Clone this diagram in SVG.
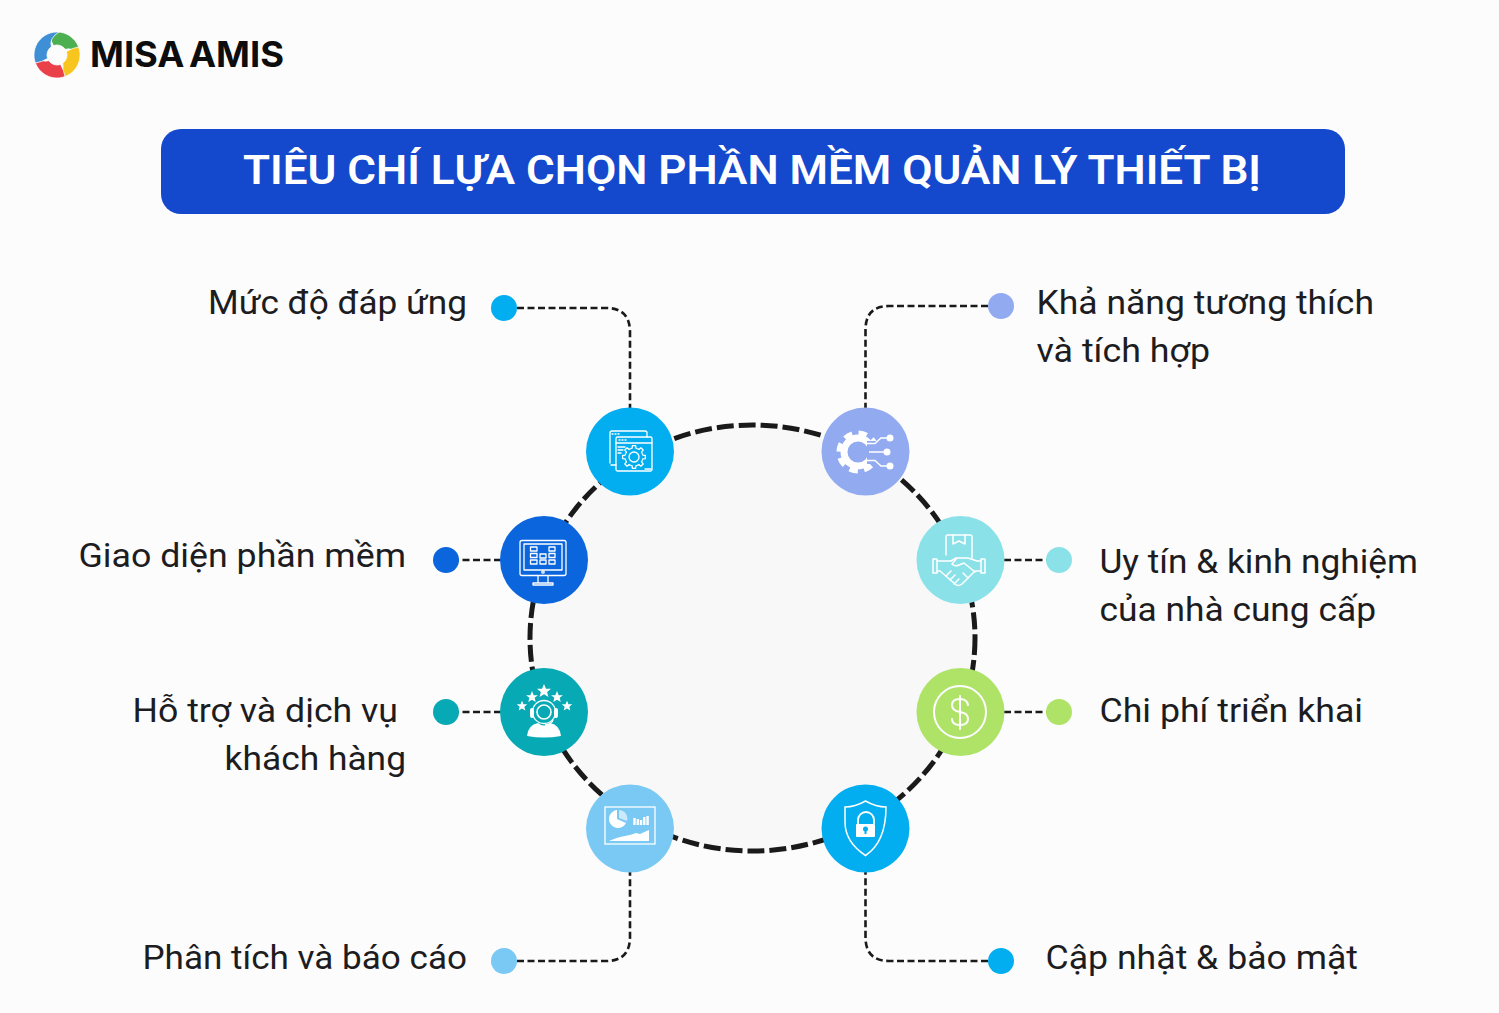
<svg xmlns="http://www.w3.org/2000/svg" xmlns:xlink="http://www.w3.org/1999/xlink" width="1499" height="1013" viewBox="0 0 1499 1013">
<style>
.t{font-family:"Roboto","Noto Sans",sans-serif;font-size:34px;fill:#1d1d1f}
.title{font-family:"Roboto","Noto Sans",sans-serif;font-size:41px;font-weight:600;fill:#fff}
.logo{font-family:"Inter","Liberation Sans",sans-serif;font-size:35px;font-weight:700;fill:#0d0d0d;word-spacing:-4px}
.ring{fill:#f8f8f8;stroke:#1a1a1a;stroke-width:5;stroke-dasharray:17 5}
.c{fill:none;stroke:#1a1a1a;stroke-width:2.6;stroke-dasharray:7 3.5}
.i{fill:none;stroke:#fff;stroke-width:1.3;stroke-linejoin:round;stroke-linecap:round}
.f{fill:#fff;stroke:none}
</style>
<defs>
<path id="blade" d="M-8,-21.6 A23,23 0 0 1 22.9,2 Q17,-8 8.2,-5.700 A10,10 0 0 0 -3.500,-9.400 Q-7,-15 -8,-21.6Z" stroke="#fcfcfc" stroke-width=".8"/>
<polygon id="star" points="0,-7 2,-2.2 7,-2.2 3.1,1 4.4,6 0,3.2 -4.4,6 -3.1,1 -7,-2.2 -2,-2.2"/>
<polyline id="tooth" points="8.31,-3.44 8.8,-1.87 11.39,-1.6 11.39,1.6 8.8,1.87 8.31,3.44"/>
</defs>
<rect width="1499" height="1013" fill="#fcfcfc"/>
<g id="logo">
<g transform="translate(57,55)">
<use xlink:href="#blade" fill="#4caf50"/>
<use xlink:href="#blade" fill="#f7c51e" transform="rotate(90)"/>
<use xlink:href="#blade" fill="#e9404a" transform="rotate(180)"/>
<use xlink:href="#blade" fill="#3f8fd6" transform="rotate(270)"/>
</g>
<text class="logo" x="90" y="67" textLength="194" lengthAdjust="spacingAndGlyphs">MISA AMIS</text>
</g>
<g id="title">
<rect x="161" y="129" width="1184" height="85" rx="20" fill="#1449ce"/>
<text class="title" x="243" y="184" textLength="1018" lengthAdjust="spacingAndGlyphs">TIÊU CHÍ LỰA CHỌN PHẦN MỀM QUẢN LÝ THIẾT BỊ</text>
</g>
<g id="connectors">
<ellipse class="ring" cx="752.5" cy="638" rx="222.5" ry="213"/>
<path class="c" d="M517,308H606Q630,308 630,332V408"/>
<path class="c" d="M988,306H889Q865.500,306 865.500,330V408"/>
<path class="c" d="M501,560H446"/>
<path class="c" d="M1004,560H1059"/>
<path class="c" d="M501,712H446"/>
<path class="c" d="M1004,712H1059"/>
<path class="c" d="M517,961H606Q630,961 630,937V872"/>
<path class="c" d="M988,961H889Q865.500,961 865.500,937V872"/>
</g>
<g id="node-muc-do">
<circle cx="504" cy="308" r="13" fill="#03aef0"/>
<text class="t" x="208" y="314" textLength="259" lengthAdjust="spacingAndGlyphs">Mức độ đáp ứng</text>
<circle cx="630" cy="451.500" r="44" fill="#03aef0"/>
<g class="i">
<path d="M610,463V433Q610,431 612,431H645Q647,431 647,433V437"/>
<path d="M611,465H616"/>
<rect x="616" y="437" width="36" height="34" rx="1.500"/>
<path d="M616,443H652M618,447H625M618,450H623M618,453H621M645,469H651M612,434H613M615,434H616M618,434H619M619,440H620M622,440H623M625,440H626"/>
<circle cx="634" cy="457" r="5"/>
</g>
<g fill="none" stroke="#fff" stroke-width="1.300" stroke-linejoin="round" transform="translate(634,457)">
<use xlink:href="#tooth"/><use xlink:href="#tooth" transform="rotate(45)"/><use xlink:href="#tooth" transform="rotate(90)"/><use xlink:href="#tooth" transform="rotate(135)"/><use xlink:href="#tooth" transform="rotate(180)"/><use xlink:href="#tooth" transform="rotate(225)"/><use xlink:href="#tooth" transform="rotate(270)"/><use xlink:href="#tooth" transform="rotate(315)"/>
</g>
</g>
<g id="node-kha-nang">
<circle cx="1001" cy="306" r="13" fill="#92aaef"/>
<text class="t" x="1036.500" y="314" textLength="337.500" lengthAdjust="spacingAndGlyphs">Khả năng tương thích</text>
<text class="t" x="1036.500" y="362" textLength="173.500" lengthAdjust="spacingAndGlyphs">và tích hợp</text>
<circle cx="865.500" cy="451.500" r="44" fill="#92aaef"/>
<circle cx="858" cy="452" r="19" fill="none" stroke="#fff" stroke-width="5" stroke-dasharray="8.500 6.420"/>
<circle cx="858" cy="452" r="14" fill="none" stroke="#fff" stroke-width="7"/>
<rect x="867" y="441" width="14" height="23" fill="#92aaef"/>
<path fill="none" stroke="#fff" stroke-width="1.500" d="M866,443.500H875L881,438H888M869,452H888M866,460.500H875L881,466H888"/>
<circle class="f" cx="890" cy="438" r="3.500"/><circle class="f" cx="887" cy="452" r="3.500"/><circle class="f" cx="890" cy="466" r="3.500"/>
</g>
<g id="node-giao-dien">
<circle cx="446" cy="560" r="13" fill="#0b66dd"/>
<text class="t" x="78.500" y="567" textLength="327.500" lengthAdjust="spacingAndGlyphs">Giao diện phần mềm</text>
<circle cx="544" cy="560" r="44" fill="#0b66dd"/>
<g class="i">
<rect x="520" y="540.500" width="46" height="35" rx="2"/>
<rect x="524" y="544" width="38" height="26"/>
<path d="M538,576V583M548,576V583M533,585H553V583H533Z"/>
<circle cx="543" cy="572" r="1.200"/>
<rect x="530.500" y="547" width="6.500" height="4"/><rect x="549" y="547" width="6" height="4"/>
<rect x="530.500" y="553.500" width="6.500" height="4"/><rect x="540" y="554" width="6" height="4"/><rect x="549" y="553.500" width="6" height="4"/>
<rect x="530.500" y="560" width="6.500" height="4"/><rect x="540" y="560" width="6" height="4"/><rect x="549" y="560" width="6" height="4"/>
</g>
</g>
<g id="node-uy-tin">
<circle cx="1059" cy="560" r="13" fill="#8be1e8"/>
<text class="t" x="1099.500" y="573" textLength="318.500" lengthAdjust="spacingAndGlyphs">Uy tín &amp; kinh nghiệm</text>
<text class="t" x="1099.500" y="621" textLength="276.500" lengthAdjust="spacingAndGlyphs">của nhà cung cấp</text>
<circle cx="960.500" cy="560" r="44" fill="#8be1e8"/>
<g fill="none" stroke="#fff" stroke-width="1.500" stroke-linejoin="round" stroke-linecap="round">
<path d="M946,555V537Q946,535 948,535H970Q972,535 972,537V558"/>
<path d="M953,535V544L959,541L965,544V535"/>
<rect x="933" y="559" width="4" height="14"/><rect x="981" y="559" width="4" height="14"/>
<path d="M937,561H951L956,558H968L977,561H981M981,571H975L962,584Q958,587 955,584L947,577L940,571H937"/>
<path d="M957,558L952,564Q955,567 959,565L964,563L975,572M946,576L951,571M950,580L955,575M954,584L959,579M968,578L963,573"/>
</g>
</g>
<g id="node-ho-tro">
<circle cx="446" cy="712" r="13" fill="#07a9b4"/>
<text class="t" x="132.500" y="722" textLength="265.500" lengthAdjust="spacingAndGlyphs">Hỗ trợ và dịch vụ</text>
<text class="t" x="224.500" y="770" textLength="181.500" lengthAdjust="spacingAndGlyphs">khách hàng</text>
<circle cx="544" cy="712" r="44" fill="#07a9b4"/>
<use xlink:href="#star" class="f" transform="translate(522,706) scale(.75)"/>
<use xlink:href="#star" class="f" transform="translate(532,697) scale(.85)"/>
<use xlink:href="#star" class="f" transform="translate(544,691)"/>
<use xlink:href="#star" class="f" transform="translate(557,697) scale(.85)"/>
<use xlink:href="#star" class="f" transform="translate(567,706) scale(.75)"/>
<g fill="none" stroke="#fff">
<circle cx="544" cy="712" r="11.500" stroke-width="1.300"/>
<circle cx="544" cy="712" r="7" stroke-width="1.600"/>
<path d="M553,720Q552,724 545,725" stroke-width="1.300"/>
</g>
<rect class="f" x="530" y="708" width="4" height="10" rx="2"/><rect class="f" x="554" y="708" width="4" height="10" rx="2"/>
<path class="f" d="M527,736Q528,725 538,723Q544,728 550,723Q560,725 561,736Q544,739 527,736Z"/>
</g>
<g id="node-chi-phi">
<circle cx="1059" cy="712" r="13" fill="#aee368"/>
<text class="t" x="1099.500" y="722" textLength="263.500" lengthAdjust="spacingAndGlyphs">Chi phí triển khai</text>
<circle cx="960.500" cy="712" r="44" fill="#aee368"/>
<circle cx="960" cy="712" r="26" fill="none" stroke="#fff" stroke-width="2"/>
<path fill="none" stroke="#fff" stroke-width="2" stroke-linecap="round" d="M968,705Q967,699 960,699Q952,699 952,705Q952,711 960,712Q968,713 968,719Q968,725 960,725Q952,725 952,719M960,696V729"/>
</g>
<g id="node-phan-tich">
<circle cx="504" cy="961" r="13" fill="#7ac9f4"/>
<text class="t" x="142.500" y="969" textLength="324.500" lengthAdjust="spacingAndGlyphs">Phân tích và báo cáo</text>
<circle cx="630" cy="828.500" r="44" fill="#7ac9f4"/>
<rect x="605" y="807" width="50" height="37" fill="none" stroke="#fff" stroke-width="1.300"/>
<path class="f" d="M617,810A9,9 0 1 0 626,823L617,819Z"/>
<path d="M619,810A8.500,8.500 0 0 1 627,821L619,818Z" fill="#fff" opacity=".6"/>
<path d="M634.500,825V818M637.800,825V819M641,825V820M644.300,825V817M647.600,825V816" stroke="#fff" stroke-width="2.400" fill="none"/>
<path class="f" d="M609,841Q618,837 625,836Q631,835 636,833L640,834L649,830V841Z"/>
</g>
<g id="node-cap-nhat">
<circle cx="1001" cy="961" r="13" fill="#03aef0"/>
<text class="t" x="1045.500" y="969" textLength="312.500" lengthAdjust="spacingAndGlyphs">Cập nhật &amp; bảo mật</text>
<circle cx="865.500" cy="828.500" r="44" fill="#03aef0"/>
<path d="M865.500,801Q855,807 845,807V822Q845,842 865.500,855.500Q886,842 886,807Q876,807 865.500,801Z" fill="none" stroke="#fff" stroke-width="1.500"/>
<path d="M858,824V820A8,8 0 0 1 874,820V824" fill="none" stroke="#fff" stroke-width="1.800"/>
<rect class="f" x="856" y="824" width="19" height="13" rx="1"/>
<circle cx="865.500" cy="829" r="2.500" fill="#03aef0"/><rect x="864.500" y="829" width="2" height="5" fill="#03aef0"/>
</g>
</svg>
